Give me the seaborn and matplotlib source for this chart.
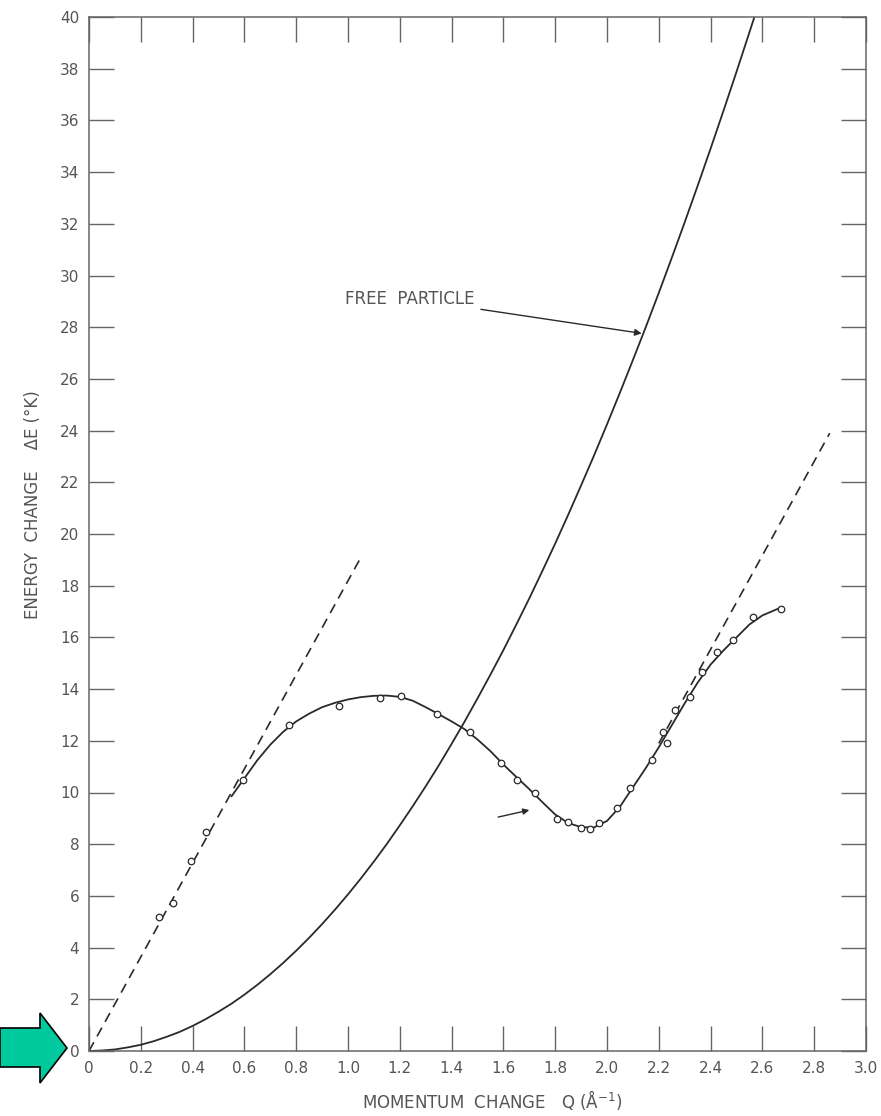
import numpy as np
import pandas as pd
import matplotlib
matplotlib.use('Agg')
import matplotlib.pyplot as plt
import seaborn as sns
from matplotlib.patches import Polygon

# ── Data ─────────────────────────────────────────────────────────────────────
# measured points, momentum Q (1/A) and energy E (K)
POINT_Q = [0.271, 0.323, 0.394, 0.452, 0.596, 0.773, 0.966, 1.124, 1.203,
           1.342, 1.471, 1.591, 1.653, 1.722, 1.808, 1.851, 1.900, 1.934,
           1.969, 2.040, 2.089, 2.173, 2.218, 2.230, 2.263, 2.320, 2.366,
           2.423, 2.488, 2.565, 2.672]
POINT_E = [5.20, 5.71, 7.35, 8.48, 10.48, 12.61, 13.36, 13.64, 13.73,
           13.02, 12.35, 11.15, 10.48, 9.97, 8.97, 8.85, 8.64, 8.59,
           8.81, 9.39, 10.16, 11.26, 12.35, 11.90, 13.19, 13.71, 14.67,
           15.45, 15.90, 16.78, 17.10]

# smooth dispersion curve drawn through the points
CURVE_Q = [0.55, 0.60, 0.65, 0.70, 0.75, 0.80, 0.85, 0.90, 0.95, 1.00, 1.05,
           1.10, 1.15, 1.20, 1.25, 1.30, 1.35, 1.40, 1.45, 1.50, 1.55, 1.60,
           1.65, 1.70, 1.75, 1.80, 1.85, 1.90, 1.95, 2.00, 2.05, 2.10, 2.15,
           2.20, 2.25, 2.30, 2.35, 2.40, 2.45, 2.50, 2.55, 2.60, 2.67]
CURVE_E = [9.85, 10.55, 11.25, 11.85, 12.35, 12.75, 13.05, 13.30, 13.47,
           13.60, 13.69, 13.74, 13.75, 13.70, 13.55, 13.30, 13.03, 12.75,
           12.45, 12.05, 11.60, 11.08, 10.60, 10.13, 9.63, 9.15, 8.82, 8.66,
           8.65, 8.90, 9.45, 10.20, 10.95, 11.75, 12.60, 13.45, 14.25, 14.95,
           15.50, 16.00, 16.50, 16.85, 17.15]

# free particle curve
FREE_Q = [0.00, 0.05, 0.10, 0.15, 0.20, 0.25, 0.30, 0.35, 0.40, 0.45, 0.50,
          0.55, 0.60, 0.65, 0.70, 0.75, 0.80, 0.85, 0.90, 0.95, 1.00, 1.05,
          1.10, 1.15, 1.20, 1.25, 1.30, 1.35, 1.40, 1.45, 1.50, 1.55, 1.60,
          1.65, 1.70, 1.75, 1.80, 1.85, 1.90, 1.95, 2.00, 2.05, 2.10, 2.15,
          2.20, 2.25, 2.30, 2.35, 2.40, 2.45, 2.50, 2.55, 2.57]
FREE_E = [0.00, 0.02, 0.06, 0.14, 0.24, 0.38, 0.55, 0.74, 0.97, 1.23, 1.52,
          1.83, 2.18, 2.56, 2.97, 3.41, 3.88, 4.38, 4.91, 5.47, 6.06, 6.68,
          7.33, 8.01, 8.73, 9.47, 10.24, 11.04, 11.88, 12.74, 13.64, 14.56,
          15.51, 16.50, 17.51, 18.56, 19.63, 20.74, 21.88, 23.04, 24.24,
          25.47, 26.73, 28.01, 29.33, 30.68, 32.06, 33.47, 34.91, 36.38,
          37.88, 39.41, 40.03]

# dashed straight lines (phonon slope, and the one near the roton end)
PHONON_Q = [0.0, 1.05]
PHONON_E = [0.0, 19.1]
UPPER_Q = [2.20, 2.86]
UPPER_E = [11.9, 23.9]

X_TICKS = [round(0.2 * i, 1) for i in range(16)]
X_LABELS = ["0"] + [f"{t:.1f}" for t in X_TICKS[1:]]
Y_TICKS = list(range(0, 41, 2))

INK = "#2a2a2a"
TXT = "#555555"

# ── Plot ──────────────────────────────────────────────────────────────────────
sns.set_theme(style="white")
plt.rcParams['font.family'] = ['DejaVu Sans']

fig = plt.figure(figsize=(8.81, 11.16), dpi=100)
ax = fig.add_axes([89 / 881, 65 / 1116, 777 / 881, 1034 / 1116])

sns.lineplot(x=FREE_Q, y=FREE_E, ax=ax, color=INK, linewidth=1.3,
             estimator=None, sort=False)
sns.lineplot(x=CURVE_Q, y=CURVE_E, ax=ax, color=INK, linewidth=1.3,
             estimator=None, sort=False)
for qs, es in [(PHONON_Q, PHONON_E), (UPPER_Q, UPPER_E)]:
    sns.lineplot(x=qs, y=es, ax=ax, color=INK, linewidth=1.2,
                 estimator=None, sort=False, linestyle=(0, (6, 4)))
sns.scatterplot(x=POINT_Q, y=POINT_E, ax=ax, marker="o", s=22,
                facecolor="white", edgecolor=INK, linewidth=0.9, zorder=5)

ax.set_xlim(0, 3.0)
ax.set_ylim(0, 40)
ax.set_xticks(X_TICKS)
ax.set_xticklabels(X_LABELS)
ax.set_yticks(Y_TICKS)
ax.tick_params(direction="in", length=18, width=1.0, color="#666666",
               labelsize=11, labelcolor=TXT, pad=7,
               top=True, right=True, bottom=True, left=True)
for sp in ax.spines.values():
    sp.set_visible(True)
    sp.set_color("#666666")
    sp.set_linewidth(1.1)
ax.set_xlabel("")
ax.set_ylabel("")
ax.grid(False)

# annotations
ax.annotate("FREE  PARTICLE", xy=(2.134, 27.76), xytext=(0.99, 29.1),
            fontsize=12, color=TXT, va="center", ha="left",
            arrowprops=dict(arrowstyle="-|>", color=INK, lw=1.0,
                            shrinkA=2, shrinkB=0, mutation_scale=10))
ax.annotate("", xy=(1.70, 9.32), xytext=(1.58, 9.05),
            arrowprops=dict(arrowstyle="-|>", color=INK, lw=1.0,
                            shrinkA=0, shrinkB=0, mutation_scale=9))

fig.text(33 / 881, 1 - 505 / 1116, "ENERGY  CHANGE    ΔE (°K)", rotation=90,
         ha="center", va="center", fontsize=12, color=TXT)
fig.text(492 / 881, 1 - 1100 / 1116, "MOMENTUM  CHANGE   Q (Å$^{-1}$)",
         ha="center", va="center", fontsize=12, color=TXT)

# green pointer arrow at the origin
arrow_px = [(0, 1028), (40, 1028), (40, 1013), (67, 1048), (40, 1083),
            (40, 1067), (0, 1067)]
arrow_fig = [(x / 881, 1 - y / 1116) for x, y in arrow_px]
fig.patches.append(Polygon(arrow_fig, closed=True, transform=fig.transFigure,
                           facecolor="#00C99E", edgecolor="black",
                           linewidth=1.2, zorder=10))

fig.savefig("out.png", dpi=100)
